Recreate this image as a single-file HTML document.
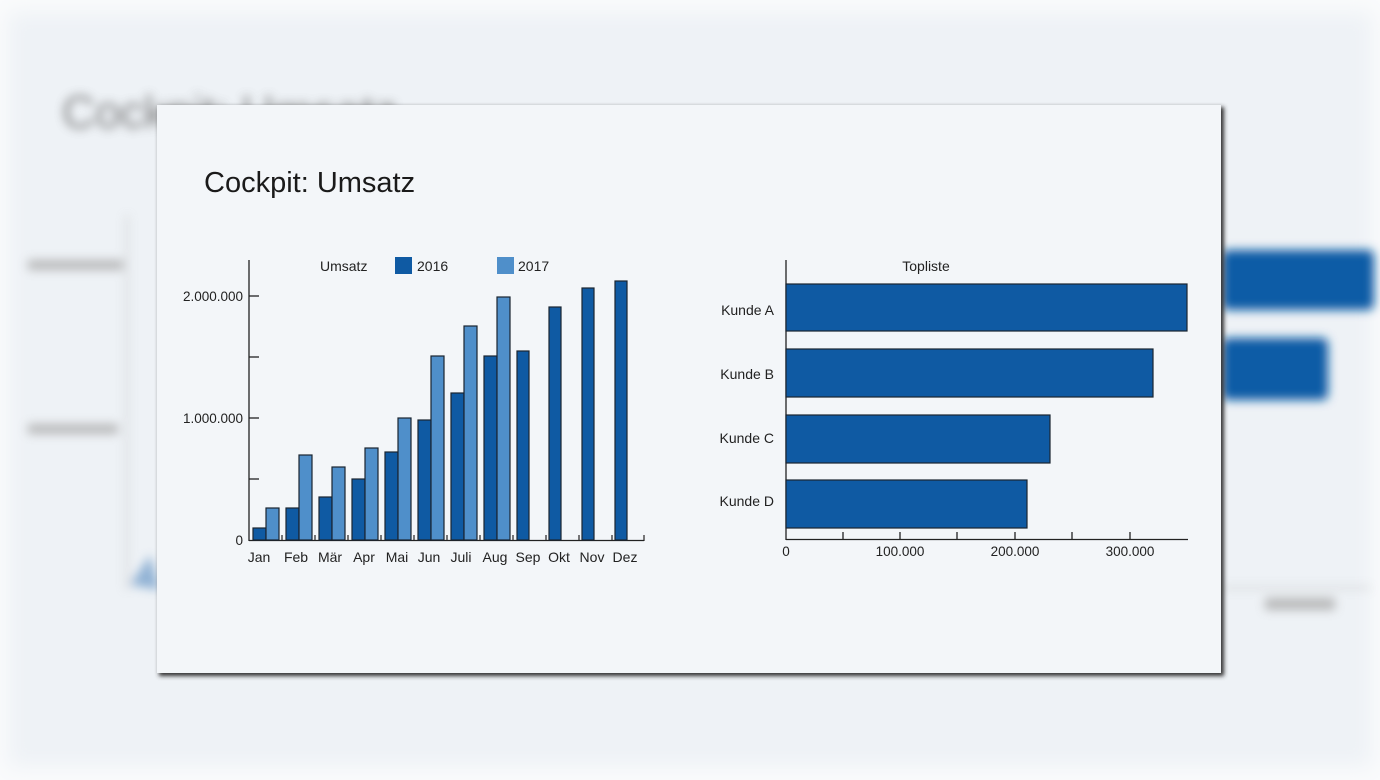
<!DOCTYPE html>
<html><head><meta charset="utf-8"><style>
html,body{margin:0;padding:0;background:#fff;}
svg{display:block;font-family:"Liberation Sans",sans-serif;}
</style></head><body>
<svg width="1380" height="780" viewBox="0 0 1380 780" xmlns="http://www.w3.org/2000/svg">
<defs>
<filter id="b" x="-20%" y="-20%" width="140%" height="140%"><feGaussianBlur stdDeviation="5"/></filter>
<filter id="bb" x="-10%" y="-10%" width="120%" height="120%"><feGaussianBlur stdDeviation="10"/></filter>
<filter id="sh" x="-5%" y="-5%" width="110%" height="110%"><feGaussianBlur stdDeviation="2"/></filter>
</defs>
<rect width="1380" height="780" fill="#fafbfc"/>
<rect x="8" y="12" width="1364" height="755" fill="#eef2f6" filter="url(#bb)"/>
<g filter="url(#b)" opacity="0.8">
<text x="62" y="128" font-size="46" fill="#666">Cockpit: Umsatz</text>
<line x1="127" y1="215" x2="127" y2="590" stroke="#bbb" stroke-width="2"/>
<rect x="28" y="260" width="95" height="10" fill="#aaa"/>
<rect x="28" y="424" width="90" height="10" fill="#aaa"/>
<path d="M130 585 L150 555 L160 590 Z" fill="#7aa3cc"/>
<line x1="1222" y1="588" x2="1370" y2="588" stroke="#bbb" stroke-width="2"/>
<rect x="1265" y="598" width="70" height="12" fill="#aaa"/>
</g>
<g filter="url(#b)">
<rect x="1222" y="250" width="152" height="60" rx="6" fill="#105ca6"/>
<rect x="1222" y="338" width="106" height="62" rx="6" fill="#105ca6"/>
</g>
<rect x="159" y="107" width="1065" height="569" fill="#333" filter="url(#sh)"/>
<rect x="157" y="105" width="1064" height="568" fill="#f3f6f9"/>
<text x="204" y="192" font-size="29" fill="#1a1a1a">Cockpit: Umsatz</text>
<g font-size="14" fill="#222">
<text x="320" y="271">Umsatz</text>
<rect x="395" y="257" width="17" height="17" fill="#0f5aa3"/>
<text x="417" y="271">2016</text>
<rect x="497" y="257" width="17" height="17" fill="#4f8fca"/>
<text x="518" y="271">2017</text>
</g>
<g stroke="#222" stroke-width="1.3">
<line x1="249" y1="260" x2="249" y2="541"/>
<line x1="249" y1="540.5" x2="644" y2="540.5"/>
<line x1="249" y1="296" x2="259" y2="296"/><line x1="249" y1="357" x2="259" y2="357"/>
<line x1="249" y1="418" x2="259" y2="418"/><line x1="249" y1="479" x2="259" y2="479"/>
</g>
<g font-size="13.5" fill="#222" text-anchor="end">
<text x="243" y="301">2.000.000</text><text x="243" y="423">1.000.000</text><text x="243" y="545">0</text>
</g>
<g stroke="#1a2430" stroke-width="1.2">
<rect x="253" y="528" width="13" height="12" fill="#0f5aa3"/><rect x="266" y="508" width="13" height="32" fill="#4f8fca"/>
<rect x="286" y="508" width="13" height="32" fill="#0f5aa3"/><rect x="299" y="455" width="13" height="85" fill="#4f8fca"/>
<rect x="319" y="497" width="13" height="43" fill="#0f5aa3"/><rect x="332" y="467" width="13" height="73" fill="#4f8fca"/>
<rect x="352" y="479" width="13" height="61" fill="#0f5aa3"/><rect x="365" y="448" width="13" height="92" fill="#4f8fca"/>
<rect x="385" y="452" width="13" height="88" fill="#0f5aa3"/><rect x="398" y="418" width="13" height="122" fill="#4f8fca"/>
<rect x="418" y="420" width="13" height="120" fill="#0f5aa3"/><rect x="431" y="356" width="13" height="184" fill="#4f8fca"/>
<rect x="451" y="393" width="13" height="147" fill="#0f5aa3"/><rect x="464" y="326" width="13" height="214" fill="#4f8fca"/>
<rect x="484" y="356" width="13" height="184" fill="#0f5aa3"/><rect x="497" y="297" width="13" height="243" fill="#4f8fca"/>
<rect x="517" y="351" width="12" height="189" fill="#0f5aa3"/>
<rect x="549" y="307" width="12" height="233" fill="#0f5aa3"/>
<rect x="582" y="288" width="12" height="252" fill="#0f5aa3"/>
<rect x="615" y="281" width="12" height="259" fill="#0f5aa3"/>
</g>
<g stroke="#222" stroke-width="1.2">
<line x1="282" y1="535" x2="282" y2="541"/><line x1="315" y1="535" x2="315" y2="541"/><line x1="348" y1="535" x2="348" y2="541"/>
<line x1="381" y1="535" x2="381" y2="541"/><line x1="414" y1="535" x2="414" y2="541"/><line x1="447" y1="535" x2="447" y2="541"/>
<line x1="480" y1="535" x2="480" y2="541"/><line x1="513" y1="535" x2="513" y2="541"/><line x1="546" y1="535" x2="546" y2="541"/>
<line x1="579" y1="535" x2="579" y2="541"/><line x1="612" y1="535" x2="612" y2="541"/><line x1="644" y1="535" x2="644" y2="541"/>
</g>
<g font-size="14" fill="#222" text-anchor="middle">
<text x="259" y="562">Jan</text><text x="296" y="562">Feb</text><text x="330" y="562">Mär</text><text x="364" y="562">Apr</text>
<text x="397" y="562">Mai</text><text x="429" y="562">Jun</text><text x="461" y="562">Juli</text><text x="495" y="562">Aug</text>
<text x="528" y="562">Sep</text><text x="559" y="562">Okt</text><text x="592" y="562">Nov</text><text x="625" y="562">Dez</text>
</g>
<text x="926" y="271" font-size="14" fill="#222" text-anchor="middle">Topliste</text>
<g stroke="#222" stroke-width="1.3">
<line x1="786" y1="260" x2="786" y2="540"/>
<line x1="786" y1="539.5" x2="1188" y2="539.5"/>
<line x1="843" y1="532" x2="843" y2="540"/><line x1="900" y1="532" x2="900" y2="540"/><line x1="957" y1="532" x2="957" y2="540"/>
<line x1="1015" y1="532" x2="1015" y2="540"/><line x1="1072" y1="532" x2="1072" y2="540"/><line x1="1130" y1="532" x2="1130" y2="540"/>
</g>
<g fill="#0f5aa3" stroke="#1a2430" stroke-width="1.2">
<rect x="786" y="284" width="401" height="47"/>
<rect x="786" y="349" width="367" height="48"/>
<rect x="786" y="415" width="264" height="48"/>
<rect x="786" y="480" width="241" height="48"/>
</g>
<g font-size="14" fill="#222" text-anchor="end">
<text x="774" y="315">Kunde A</text><text x="774" y="379">Kunde B</text><text x="774" y="443">Kunde C</text><text x="774" y="506">Kunde D</text>
</g>
<g font-size="13.5" fill="#222" text-anchor="middle">
<text x="786" y="556">0</text><text x="900" y="556">100.000</text><text x="1015" y="556">200.000</text><text x="1130" y="556">300.000</text>
</g>
</svg>
</body></html>
